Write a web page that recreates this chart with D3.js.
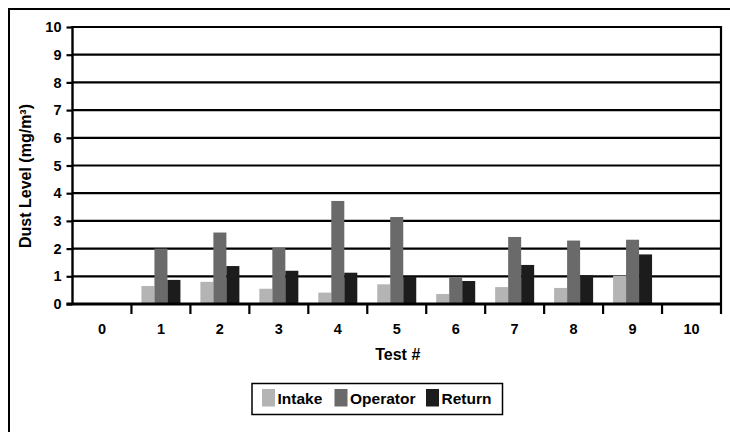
<!DOCTYPE html>
<html>
<head>
<meta charset="utf-8">
<script src="https://cdn.jsdelivr.net/npm/d3@7"></script>
<style>
  html, body { margin: 0; padding: 0; background: #fff; }
  svg { display: block; }
  text { font-family: "Liberation Sans", Arial, sans-serif; font-weight: bold; fill: #000; }
</style>
</head>
<body>
<svg id="chart" width="730" height="432"></svg>
<script>
// Test numbers on the x axis (0 and 10 are empty slots)
const tests = ["0", "1", "2", "3", "4", "5", "6", "7", "8", "9", "10"];
const seriesNames = ["Intake", "Operator", "Return"];
// Dust level readings in mg/m³ per test (null = no sample)
const intake   = [null, 0.65, 0.80, 0.55, 0.41, 0.71, 0.36, 0.61, 0.58, 1.02, null];
const operator = [null, 2.00, 2.58, 2.02, 3.72, 3.14, 0.96, 2.42, 2.29, 2.32, null];
const returnAir = [null, 0.87, 1.37, 1.20, 1.13, 0.99, 0.83, 1.41, 1.04, 1.79, null];
const yTicks = [0, 1, 2, 3, 4, 5, 6, 7, 8, 9, 10];
const colors = ["#b4b4b4", "#6a6a6a", "#1c1c1c"];

const seriesValues = [intake, operator, returnAir];
const rows = tests.map((t, i) => ({
  test: t,
  values: seriesNames.map((s, j) => ({ key: s, value: seriesValues[j][i], color: colors[j] }))
}));

const svg = d3.select("#chart");
const plot = { left: 72.5, right: 721, top: 27, bottom: 304 };

// Outer frame (extends past the visible area on the right and bottom)
svg.append("rect")
  .attr("x", 9).attr("y", 9).attr("width", 760).attr("height", 460)
  .attr("fill", "none").attr("stroke", "#000").attr("stroke-width", 2);

const x0 = d3.scaleBand().domain(tests).range([plot.left, plot.right]).padding(0);
const groupWidth = 39;
const x1 = d3.scaleBand().domain(seriesNames).range([0, groupWidth]).padding(0);
const y = d3.scaleLinear().domain([0, 10]).range([plot.bottom, plot.top]);

// Left ticks and labels
const yAxis = svg.append("g")
  .attr("transform", `translate(${plot.left},0)`)
  .call(d3.axisLeft(y).tickValues(yTicks).tickSize(6).tickPadding(5).tickFormat(d3.format("d")));
yAxis.select(".domain").remove();
yAxis.selectAll(".tick line").attr("stroke", "#000").attr("stroke-width", 2.2);
yAxis.selectAll(".tick text").style("font-size", "14.5px").attr("fill", "#000");

// Horizontal gridlines
svg.append("g").selectAll("line")
  .data(yTicks.filter(d => d > 0))
  .join("line")
  .attr("x1", plot.left).attr("x2", plot.right)
  .attr("y1", d => y(d)).attr("y2", d => y(d))
  .attr("stroke", "#000").attr("stroke-width", 2.2);

// Bars
const groups = svg.append("g").selectAll("g")
  .data(rows)
  .join("g")
  .attr("transform", d => `translate(${x0(d.test) + (x0.bandwidth() - groupWidth) / 2},0)`);

groups.selectAll("rect")
  .data(d => d.values.filter(v => v.value != null))
  .join("rect")
  .attr("x", d => x1(d.key))
  .attr("width", x1.bandwidth())
  .attr("y", d => y(d.value))
  .attr("height", d => y(0) - y(d.value))
  .attr("fill", d => d.color);

// Left axis line
svg.append("line")
  .attr("x1", plot.left).attr("x2", plot.left)
  .attr("y1", plot.top - 1).attr("y2", plot.bottom)
  .attr("stroke", "#000").attr("stroke-width", 2.4);

// Right edge, continuing as the last category tick
svg.append("line")
  .attr("x1", plot.right).attr("x2", plot.right)
  .attr("y1", plot.top - 1).attr("y2", plot.bottom + 10)
  .attr("stroke", "#000").attr("stroke-width", 2.2);

// Baseline
svg.append("line")
  .attr("x1", plot.left - 6).attr("x2", plot.right + 1)
  .attr("y1", y(0)).attr("y2", y(0))
  .attr("stroke", "#000").attr("stroke-width", 3);

// Category boundary ticks below the baseline
const boundaries = tests.slice(1).map(t => x0(t));
svg.append("g").selectAll("line")
  .data(boundaries)
  .join("line")
  .attr("x1", d => d).attr("x2", d => d)
  .attr("y1", y(0)).attr("y2", y(0) + 10)
  .attr("stroke", "#000").attr("stroke-width", 2.2);

// Category labels
svg.append("g").selectAll("text")
  .data(tests)
  .join("text")
  .attr("x", d => x0(d) + x0.bandwidth() / 2)
  .attr("y", 334)
  .attr("text-anchor", "middle")
  .style("font-size", "14.5px")
  .text(d => d);

// Axis titles
svg.append("text")
  .attr("x", (plot.left + plot.right) / 2 + 1)
  .attr("y", 360)
  .attr("text-anchor", "middle")
  .style("font-size", "16px")
  .text("Test #");

svg.append("text")
  .attr("transform", "translate(31,176) rotate(-90)")
  .attr("text-anchor", "middle")
  .style("font-size", "16px")
  .text("Dust Level (mg/m³)");

// Legend
const legend = svg.append("g");
legend.append("rect")
  .attr("x", 252).attr("y", 383.5).attr("width", 250.5).attr("height", 31)
  .attr("fill", "#fff").attr("stroke", "#000").attr("stroke-width", 1.5);
const legendX = [262, 334.5, 426];
const items = legend.selectAll("g.item")
  .data(seriesNames)
  .join("g")
  .attr("class", "item")
  .attr("transform", (d, i) => `translate(${legendX[i]},0)`);
items.append("rect")
  .attr("x", 0).attr("y", 389).attr("width", 13).attr("height", 17.5)
  .attr("fill", (d, i) => colors[i]);
items.append("text")
  .attr("x", 15.5).attr("y", 403.5)
  .style("font-size", "15.5px")
  .text(d => d);
</script>
</body>
</html>
